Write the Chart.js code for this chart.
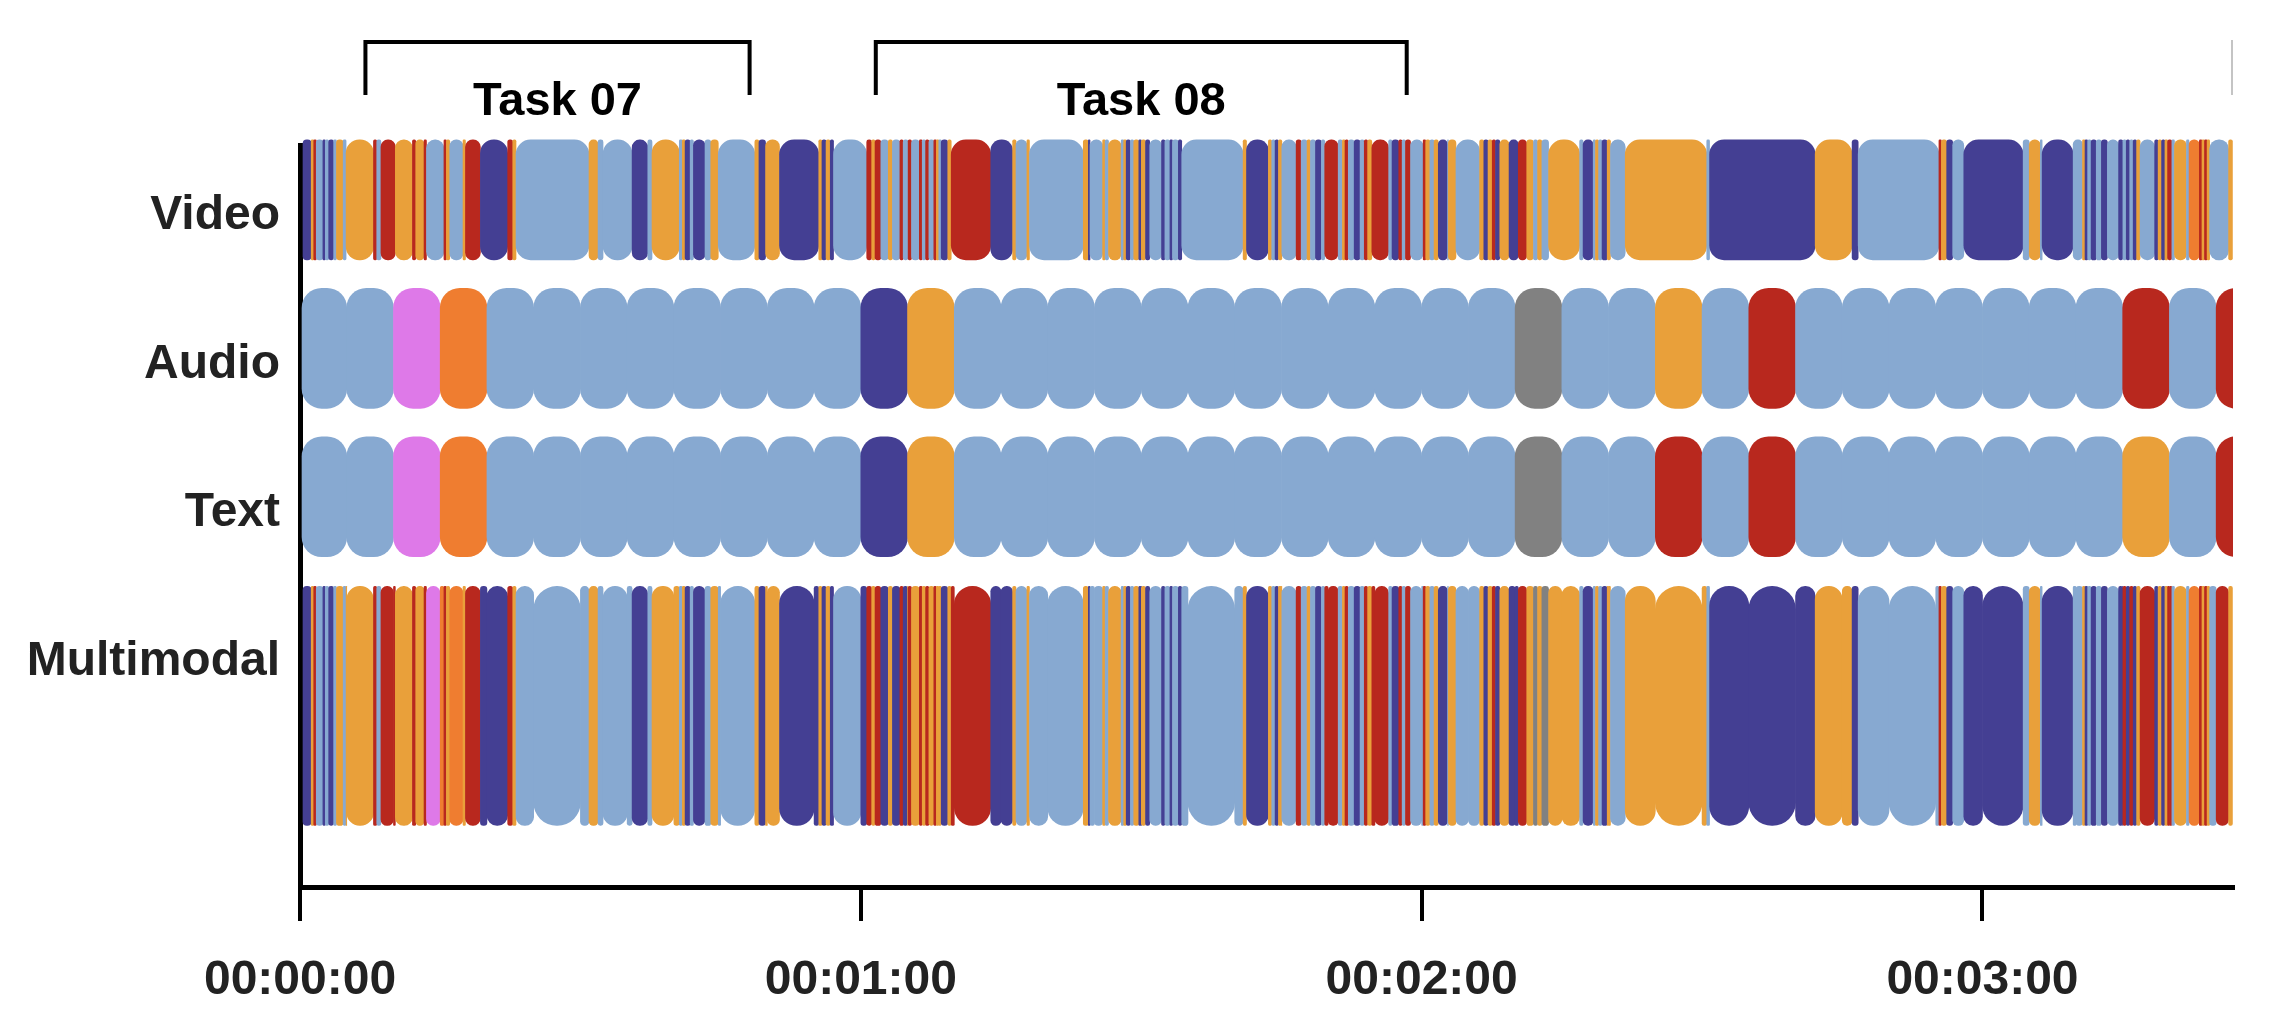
<!DOCTYPE html>
<html>
<head>
<meta charset="utf-8">
<title>Timeline</title>
<script src="https://cdn.jsdelivr.net/npm/chart.js@4.4.1/dist/chart.umd.min.js"></script>
<style>
    html, body { margin: 0; padding: 0; background: #fff; }
    #wrap { width: 2269px; height: 1025px; }
</style>
</head>
<body>
<div id="wrap"><canvas id="timeline"></canvas></div>
<script>
"use strict";

/* rows and axis */
var rowNames = ['Video', 'Audio', 'Text', 'Multimodal'];
var tickValues = [0, 60, 120, 180];
var tickLabels = ['00:00:00', '00:01:00', '00:02:00', '00:03:00'];
var xMax = 206.8;
var windowSeconds = 5;

/* tasks above the timeline (seconds) */
var taskNames = ['Task 07', 'Task 08', 'Task 09'];
var taskStart = [7.0, 61.6, 206.8];
var taskEnd = [48.1, 118.4, 260];

/* audio / text: one class per 5 s window */
var audioClasses = ['N', 'N', 'P', 'Q', 'N', 'N', 'N', 'N', 'N', 'N', 'N', 'N', 'B', 'O',
    'N', 'N', 'N', 'N', 'N', 'N', 'N', 'N', 'N', 'N', 'N', 'N', 'G', 'N', 'N', 'O',
    'N', 'R', 'N', 'N', 'N', 'N', 'N', 'N', 'N', 'R', 'N', 'R'];
var textClasses = ['N', 'N', 'P', 'Q', 'N', 'N', 'N', 'N', 'N', 'N', 'N', 'N', 'B', 'O',
    'N', 'N', 'N', 'N', 'N', 'N', 'N', 'N', 'N', 'N', 'N', 'N', 'G', 'N', 'N', 'R',
    'N', 'R', 'N', 'N', 'N', 'N', 'N', 'N', 'N', 'O', 'N', 'R'];

/* video: [start second, class], each segment ends where the next starts */
var videoSegments = [
    [0.32, 'B'], [1.20, 'O'], [1.47, 'R'], [1.74, 'N'], [2.45, 'B'], [2.71, 'N'], [3.07, 'B'],
    [3.60, 'N'], [3.90, 'O'], [4.62, 'N'], [4.93, 'O'], [7.86, 'R'], [8.21, 'N'], [8.66, 'R'],
    [10.20, 'O'], [12.03, 'R'], [12.38, 'O'], [13.27, 'R'], [13.53, 'N'], [15.40, 'R'],
    [15.66, 'O'], [16.02, 'N'], [17.44, 'O'], [17.70, 'R'], [19.30, 'B'], [22.22, 'R'],
    [22.76, 'O'], [23.11, 'N'], [30.92, 'O'], [31.89, 'N'], [32.42, 'N'], [35.53, 'B'],
    [37.21, 'N'], [37.66, 'O'], [40.58, 'N'], [40.90, 'O'], [41.20, 'B'], [41.74, 'N'],
    [42.09, 'B'], [43.33, 'N'], [43.95, 'O'], [44.75, 'N'], [48.66, 'O'], [49.10, 'B'],
    [49.81, 'O'], [51.30, 'B'], [55.50, 'O'], [55.84, 'B'], [56.28, 'O'], [56.73, 'B'],
    [57.08, 'N'], [60.63, 'R'], [61.16, 'O'], [61.52, 'R'], [62.14, 'N'], [62.94, 'O'],
    [63.38, 'N'], [64.18, 'R'], [64.53, 'N'], [65.06, 'R'], [65.42, 'N'], [66.26, 'R'],
    [66.57, 'N'], [66.93, 'R'], [67.28, 'N'], [67.81, 'R'], [68.08, 'O'], [68.34, 'N'],
    [68.60, 'B'], [69.30, 'O'], [69.67, 'R'], [73.90, 'B'], [76.24, 'O'], [76.60, 'N'],
    [77.77, 'O'], [78.04, 'N'], [83.80, 'O'], [84.34, 'B'], [84.52, 'N'], [85.87, 'O'],
    [86.14, 'N'], [86.50, 'O'], [87.85, 'N'], [88.12, 'O'], [88.39, 'B'], [88.84, 'N'],
    [89.20, 'O'], [89.74, 'B'], [90.01, 'O'], [90.46, 'B'], [90.91, 'N'], [92.17, 'B'],
    [92.53, 'N'], [93.07, 'B'], [93.34, 'N'], [93.97, 'B'], [94.33, 'N'], [100.90, 'O'],
    [101.26, 'B'], [103.60, 'O'], [103.96, 'N'], [104.32, 'B'], [104.68, 'O'], [105.04, 'N'],
    [106.57, 'R'], [107.11, 'N'], [107.74, 'O'], [108.10, 'N'], [108.64, 'B'], [109.27, 'N'],
    [109.63, 'R'], [111.07, 'N'], [111.52, 'O'], [111.80, 'R'], [112.15, 'N'], [112.78, 'B'],
    [113.41, 'N'], [113.86, 'R'], [114.22, 'O'], [114.67, 'R'], [116.47, 'N'], [116.83, 'B'],
    [117.55, 'R'], [117.91, 'N'], [118.27, 'R'], [118.81, 'N'], [120.16, 'R'], [120.43, 'O'],
    [120.88, 'N'], [121.33, 'O'], [121.78, 'B'], [122.77, 'N'], [122.86, 'O'], [123.67, 'N'],
    [126.20, 'O'], [126.65, 'B'], [127.10, 'O'], [127.55, 'R'], [127.90, 'B'], [128.36, 'O'],
    [129.35, 'B'], [130.34, 'R'], [131.24, 'O'], [131.96, 'N'], [132.40, 'O'], [132.86, 'N'],
    [133.58, 'O'], [136.90, 'N'], [137.27, 'B'], [138.35, 'N'], [138.60, 'O'], [138.93, 'N'],
    [139.30, 'B'], [139.85, 'O'], [140.20, 'N'], [141.78, 'O'], [150.50, 'N'], [150.80, 'B'],
    [162.10, 'O'], [166.05, 'B'], [166.70, 'N'], [175.34, 'R'], [175.60, 'O'], [176.17, 'B'],
    [176.81, 'N'], [178.00, 'B'], [184.35, 'N'], [185.00, 'O'], [186.19, 'N'], [186.38, 'B'],
    [189.70, 'N'], [190.70, 'O'], [190.97, 'B'], [191.25, 'N'], [191.62, 'B'], [192.17, 'N'],
    [192.72, 'B'], [193.36, 'N'], [194.56, 'B'], [195.02, 'N'], [195.38, 'B'], [195.75, 'N'],
    [196.12, 'B'], [196.49, 'O'], [196.86, 'N'], [198.42, 'B'], [198.79, 'O'], [199.16, 'B'],
    [199.52, 'O'], [199.80, 'R'], [200.26, 'N'], [200.54, 'O'], [201.82, 'N'], [202.10, 'Q'],
    [203.20, 'R'], [203.48, 'O'], [203.75, 'R'], [204.03, 'O'], [204.30, 'N'], [206.33, 'O'],
    [206.74, null]
];

/* class colours */
var classColors = {
    N: '#87a9d1',
    O: '#e9a03a',
    B: '#443f93',
    R: '#b8281e',
    P: '#de79e8',
    Q: '#ef7d30',
    G: '#818181'
};

/* segment lists */
function videoRanges() {
    var out = [];
    for (var i = 0; i < videoSegments.length - 1; i++) {
        out.push({ s: videoSegments[i][0], e: videoSegments[i + 1][0], c: videoSegments[i][1] });
    }
    return out;
}

function windowRanges(classes) {
    return classes.map(function (c, i) {
        return { s: i * windowSeconds, e: (i + 1) * windowSeconds, c: c };
    });
}

// multimodal: video cut at the 5 s windows, neutral video filled from audio, then text
function fusedRanges() {
    var out = [];
    videoRanges().forEach(function (g) {
        var s = g.s;
        while (s < g.e - 1e-9) {
            var w = Math.floor(s / windowSeconds + 1e-9);
            var e = Math.min(g.e, (w + 1) * windowSeconds);
            var c = g.c;
            if (c === 'N') c = audioClasses[w] !== 'N' ? audioClasses[w] : textClasses[w];
            out.push({ s: s, e: e, c: c });
            s = e;
        }
    });
    return out;
}

var rows = [videoRanges(), windowRanges(audioClasses), windowRanges(textClasses), fusedRanges()];

function rowDataset(r) {
    var tall = rowNames[r] === 'Multimodal';
    var ranges = rows[r];
    return {
        label: rowNames[r],
        data: ranges.map(function (g) { return { x: [g.s, g.e], y: r + (tall ? 0.28 : -0.13) }; }),
        backgroundColor: ranges.map(function (g) { return classColors[g.c]; }),
        barThickness: tall ? 239 : 120,
        borderRadius: r === 0 ? 15 : (tall ? 24 : 20),
        borderSkipped: false,
        borderWidth: 0,
        grouped: false,
        clip: { left: 0, top: 12, right: 0, bottom: 0 }
    };
}

/* task brackets */
var taskBrackets = {
    id: 'taskBrackets',
    afterDraw: function (chart) {
        var ctx = chart.ctx, area = chart.chartArea, x = chart.scales.x;
        ctx.save();
        ctx.beginPath();
        ctx.rect(0, 0, area.right, area.top);
        ctx.clip();
        ctx.lineWidth = 4;
        ctx.fillStyle = '#000';
        ctx.font = 'bold 47px "Liberation Sans", Arial, sans-serif';
        ctx.textAlign = 'center';
        ctx.textBaseline = 'alphabetic';
        taskNames.forEach(function (name, i) {
            var x0 = x.getPixelForValue(taskStart[i]);
            var x1 = x.getPixelForValue(taskEnd[i]);
            // a bracket running off the right edge shows only as a faint leg
            ctx.strokeStyle = taskEnd[i] > xMax ? '#c4c4c4' : '#000';
            ctx.beginPath();
            ctx.moveTo(x0, 95);
            ctx.lineTo(x0, 42);
            ctx.lineTo(x1, 42);
            ctx.lineTo(x1, 95);
            ctx.stroke();
            ctx.fillText(name, (x0 + x1) / 2, 115);
        });
        ctx.restore();
    }
};

Chart.defaults.font.family = '"Liberation Sans", Arial, sans-serif';

var timelineChart = new Chart(document.getElementById('timeline').getContext('2d'), {
    type: 'bar',
    data: {
        datasets: rowNames.map(function (n, r) { return rowDataset(r); })
    },
    options: {
        indexAxis: 'y',
        animation: false,
        responsive: true,
        maintainAspectRatio: false,
        layout: {
            padding: { top: 145, right: 36, left: 0, bottom: 0 }
        },
        plugins: {
            legend: { display: false },
            tooltip: { enabled: false }
        },
        scales: {
            x: {
                type: 'linear',
                min: 0,
                max: xMax,
                offset: false,
                afterBuildTicks: function (scale) {
                    scale.ticks = tickValues.map(function (v) { return { value: v }; });
                },
                afterFit: function (scale) { scale.height = 138; },
                grid: {
                    display: true,
                    drawOnChartArea: false,
                    drawTicks: true,
                    tickLength: 34,
                    lineWidth: 4,
                    color: '#000'
                },
                border: { display: true, color: '#000', width: 5 },
                ticks: {
                    padding: 31,
                    maxRotation: 0,
                    color: '#222',
                    font: { size: 48, weight: 'bold' },
                    callback: function (v, i) { return tickLabels[i]; }
                }
            },
            y: {
                type: 'linear',
                reverse: true,
                min: -0.5,
                max: 4.5,
                offset: false,
                grace: 0,
                afterBuildTicks: function (scale) {
                    scale.ticks = rowNames.map(function (n, i) { return { value: i }; });
                },
                afterFit: function (scale) { scale.width = 300; },
                grid: { display: false, offset: false },
                border: { display: true, color: '#000', width: 5 },
                ticks: {
                    padding: 12,
                    labelOffset: -3,
                    color: '#222',
                    font: { size: 48, weight: 'bold' },
                    callback: function (v) { return rowNames[v]; }
                }
            }
        }
    },
    plugins: [taskBrackets]
});
</script>
</body>
</html>
